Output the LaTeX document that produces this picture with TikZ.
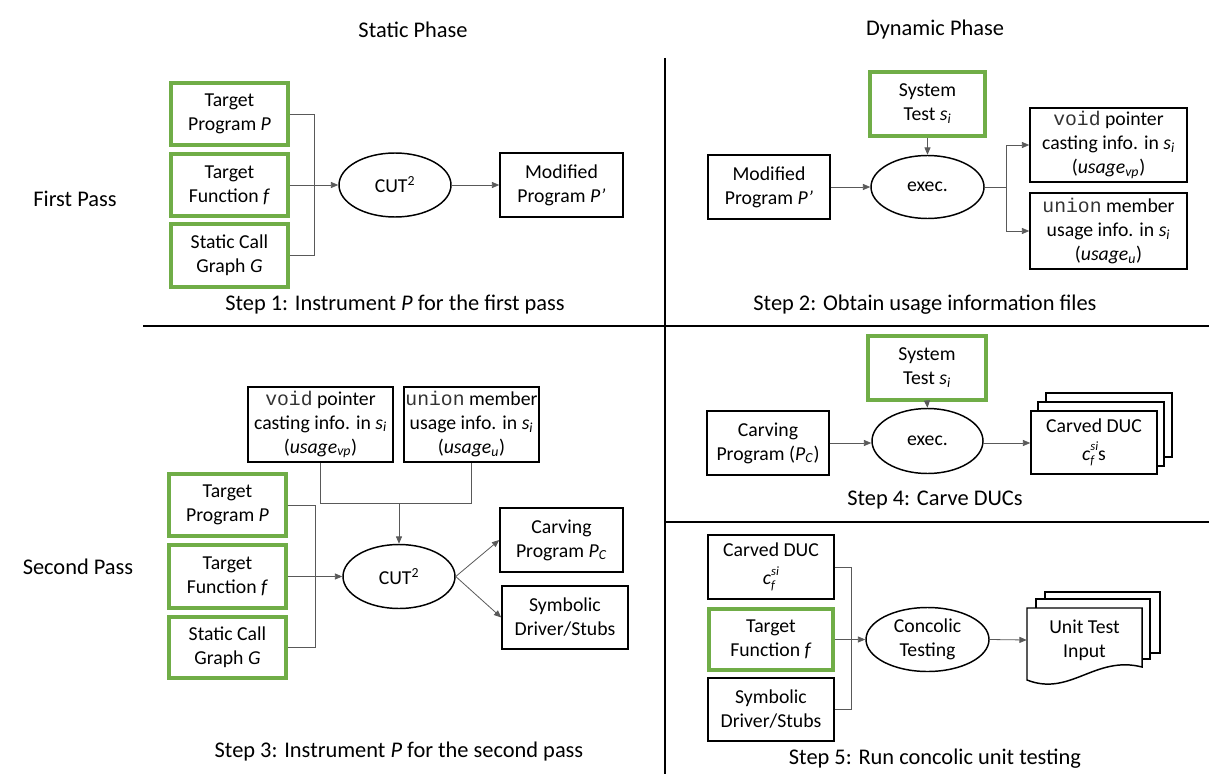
\documentclass[tikz,border=0pt]{standalone}
\usepackage{fontspec}
\setmainfont{Carlito}
\newfontfamily\codefont{Liberation Mono}
\usetikzlibrary{arrows.meta,shapes.geometric}
\definecolor{boxgreen}{RGB}{112,173,71}
\newcommand{\sub}[2]{\textit{#1}\textsubscript{\textit{#2}}}
% c with subscript f and superscript si stacked above each other
\newcommand{\cfsi}{\textit{c}\makebox[0pt][l]{\raisebox{-0.45ex}{\fontsize{9.5}{10}\selectfont\textit{f}}}\raisebox{1.05ex}{\fontsize{9.5}{10}\selectfont\textit{si}}}
\begin{document}
\begin{tikzpicture}[x=0.75pt,y=-0.75pt,
  every node/.style={font=\fontsize{14.8}{18}\selectfont},
  boxsize/.style 2 args={minimum width=#1*0.75pt, minimum height=#2*0.75pt},
  plainbox/.style={draw=black, line width=1.1pt, align=center, inner sep=0pt, fill=white},
  greenbox/.style={draw=boxgreen, line width=2.3pt, align=center, inner sep=0pt},
  proc/.style={ellipse, draw=black, line width=1.1pt, inner sep=0pt, align=center},
  conn/.style={draw=black!65, line width=0.6pt},
  arr/.style={conn, -{Triangle[length=5.5pt,width=4.5pt]}},
  headtext/.style={font=\fontsize{16.8}{20}\selectfont},
  divider/.style={line width=2.2pt},
  sheet/.style={draw=black, line width=1.1pt, fill=white}]
\useasboundingbox (0,0) rectangle (1209,774);

% phase and pass headings
\node[headtext] (hstatic) at (413,30) {Static Phase};
\node[headtext] (hdynamic) at (935,30) {Dynamic Phase};
\node[headtext] (hfirst) at (75,199) {First Pass};
\node[headtext] (hsecond) at (78,567) {Second Pass};

% quadrant dividers
\coordinate (vtop) at (665,58);
\coordinate (vbot) at (665,774);
\coordinate (hl) at (143,326);
\coordinate (hr) at (1209,326);
\coordinate (hl2) at (665,522);
\coordinate (hr2) at (1209,522);
\draw[divider] (vtop) -- (vbot);
\draw[divider] (hl) -- (hr);
\draw[divider] (hl2) -- (hr2);

% ---------- Step 1 ----------
\node[greenbox, boxsize={117}{62}] (tp1) at (229.5,114) {Target\\Program \textit{P}};
\node[greenbox, boxsize={117}{62}] (tf1) at (229.5,185) {Target\\Function \textit{f}};
\node[greenbox, boxsize={117}{63}] (cg1) at (229.5,255.5) {Static Call\\Graph \textit{G}};
\node[proc, boxsize={112}{64}] (cut1) at (395,185) {CUT\textsuperscript{2}};
\node[plainbox, boxsize={123}{64}] (mp1) at (561.5,185) {Modified\\Program \textit{P’}};
\coordinate (fork1) at (314,185);
\draw[conn] (tp1.east) -- (tp1.east -| fork1) -- (cg1.east -| fork1) -- (cg1.east);
\draw[arr] (tf1.east) -- (cut1.west);
\draw[arr] (cut1.east) -- (mp1.west);
\node[headtext] (s1) at (395,305) {Step 1: Instrument \textit{P} for the first pass};

% ---------- Step 2 ----------
\node[greenbox, boxsize={115}{64}] (st2) at (927.5,104) {System\\Test \sub{s}{i}};
\node[proc, boxsize={113}{63}] (ex2) at (927.5,187) {exec.};
\node[plainbox, boxsize={122}{64}] (mp2) at (769,187) {Modified\\Program \textit{P’}};
\node[plainbox, boxsize={157}{74}] (vp2) at (1108.5,145) {{\codefont\color{black!80}void} pointer\\casting info. in \sub{s}{i}\\(\sub{usage}{vp})};
\node[plainbox, boxsize={157}{76}] (un2) at (1108.5,231) {{\codefont\color{black!80}union} member\\usage info. in \sub{s}{i}\\(\sub{usage}{u})};
\coordinate (fork2) at (1006,187);
\draw[arr] (st2.south) -- (ex2.north);
\draw[arr] (mp2.east) -- (ex2.west);
\draw[conn] (ex2.east) -- (fork2);
\draw[arr] (fork2) |- (vp2.west);
\draw[arr] (fork2) |- (un2.west);
\node[headtext] (s2) at (925,305) {Step 2: Obtain usage information files};

% ---------- Step 3 ----------
\node[plainbox, boxsize={145}{75}] (vp3) at (320.5,424.5) {{\codefont\color{black!80}void} pointer\\casting info. in \sub{s}{i}\\(\sub{usage}{vp})};
\node[plainbox, boxsize={135}{75}] (un3) at (471.5,424.5) {{\codefont\color{black!80}union} member\\usage info. in \sub{s}{i}\\(\sub{usage}{u})};
\node[greenbox, boxsize={117}{62}] (tp3) at (227.5,505) {Target\\Program \textit{P}};
\node[greenbox, boxsize={117}{63}] (tf3) at (227.5,576.5) {Target\\Function \textit{f}};
\node[greenbox, boxsize={117}{61}] (cg3) at (227.5,647.5) {Static Call\\Graph \textit{G}};
\node[proc, boxsize={112}{64}] (cut3) at (399,576.5) {CUT\textsuperscript{2}};
\node[plainbox, boxsize={123}{64}] (cp3) at (561.5,540) {Carving\\Program \sub{P}{C}};
\node[plainbox, boxsize={126}{63}] (sd3) at (565,617.5) {Symbolic\\Driver/Stubs};
\coordinate (join3) at (399,503);
\coordinate (fork3) at (315,576.5);
\draw[conn] (vp3.south) -- (vp3.south |- join3) -- (un3.south |- join3) -- (un3.south);
\draw[arr] (join3) -- (cut3.north);
\draw[conn] (tp3.east) -- (tp3.east -| fork3) -- (cg3.east -| fork3) -- (cg3.east);
\draw[arr] (tf3.east) -- (cut3.west);
\draw[arr] (cut3.east) -- (cp3.west);
\draw[arr] (cut3.east) -- (sd3.west);
\node[headtext] (s3) at (399,752) {Step 3: Instrument \textit{P} for the second pass};

% ---------- Step 4 ----------
\node[greenbox, boxsize={118}{64}] (st4) at (927,368) {System\\Test \sub{s}{i}};
\node[proc, boxsize={111}{65}] (ex4) at (927.5,441) {exec.};
\node[plainbox, boxsize={122}{64}] (cp4) at (768,443) {Carving\\Program (\sub{P}{C})};
\draw[sheet] (1046,393) rectangle (1172,457);
\draw[sheet] (1038,402) rectangle (1164,466);
\node[plainbox, boxsize={126}{63}] (duc4) at (1094,442.5) {Carved DUC\\[3pt]\cfsi{}s};
\draw[arr] (st4.south) -- (ex4.north);
\draw[arr] (cp4.east) -- (cp4.east -| ex4.west);
\draw[arr] (ex4.east |- cp4.east) -- (duc4.west |- cp4.east);
\node[headtext] (s4) at (935,500) {Step 4: Carve DUCs};

% ---------- Step 5 ----------
\node[plainbox, boxsize={126}{64}] (cd5) at (771,567) {Carved DUC\\[3pt]\cfsi};
\node[greenbox, boxsize={124}{61}] (tf5) at (771,639.5) {Target\\Function \textit{f}};
\node[plainbox, boxsize={126}{63}] (sd5) at (771,709.5) {Symbolic\\Driver/Stubs};
\node[proc, boxsize={123}{64}] (cc5) at (927.5,639.5) {Concolic\\Testing};
\coordinate (fork5) at (851,639.5);
\draw[conn] (cd5.east) -- (cd5.east -| fork5) -- (sd5.east -| fork5) -- (sd5.east);
\draw[arr] (tf5.east) -- (cc5.west);
% stacked unit-test documents
\draw[sheet] (1045,592) rectangle (1160,653);
\draw[sheet] (1036,599) rectangle (1150,659);
\draw[sheet] (1027,608) -- (1142,608) -- (1142,667)
  .. controls (1095,655) and (1070,697) .. (1027,680) -- cycle;
\node[inner sep=0pt, align=center, minimum width=115*0.75pt, minimum height=64*0.75pt] (ut5) at (1084.5,640) {Unit Test\\Input};
\draw[arr] (cc5.east) -- (ut5.west);
\node[headtext] (s5) at (935,759) {Step 5: Run concolic unit testing};
\end{tikzpicture}
\end{document}
